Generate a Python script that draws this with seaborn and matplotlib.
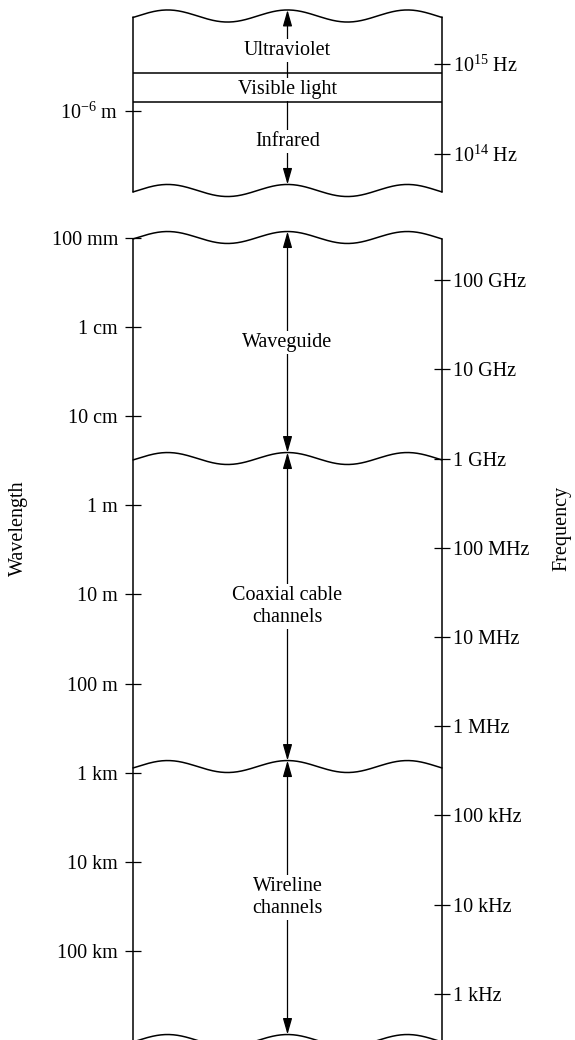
import numpy as np
import matplotlib
matplotlib.use("Agg")
import matplotlib.pyplot as plt
import seaborn as sns

C = 3e8  # m/s

# optical panel (top)
opt_edges_m = [8.8e-8, 7.6e-6]
visible_m = [380e-9, 800e-9]
opt_names = ['Ultraviolet', 'Visible light', 'Infrared']
opt_name_at_m = [210e-9, 570e-9, 2.2e-6]
opt_wl_ticks = [1e-6]
opt_wl_labels = ['$10^{-6}$ m']
opt_f_ticks = [1e15, 1e14]
opt_f_labels = ['$10^{15}$ Hz', '$10^{14}$ Hz']

# guided-transmission panel (bottom)
band_edges_m = [1e-3, 0.3, 850, 1e6]
band_names = ['Waveguide', 'Coaxial cable\nchannels', 'Wireline\nchannels']
wl_ticks = [1e-3, 1e-2, 1e-1, 1, 10, 100, 1e3, 1e4, 1e5]
wl_labels = ['100 mm', '1 cm', '10 cm', '1 m', '10 m', '100 m', '1 km', '10 km', '100 km']
f_ticks = [1e11, 1e10, 1e9, 1e8, 1e7, 1e6, 1e5, 1e4, 1e3]
f_labels = ['100 GHz', '10 GHz', '1 GHz', '100 MHz', '10 MHz', '1 MHz',
            '100 kHz', '10 kHz', '1 kHz']

sns.set_theme(style='white', rc={'text.color': 'black', 'axes.labelcolor': 'black',
                                 'xtick.color': 'black', 'ytick.color': 'black'})
plt.rcParams['font.family'] = ['Liberation Serif', 'DejaVu Serif']
plt.rcParams['mathtext.fontset'] = 'custom'
plt.rcParams['mathtext.rm'] = 'Liberation Serif'
plt.rcParams['mathtext.it'] = 'Liberation Serif:italic'

FS = 14.5
LW = 1.1
AMP = 0.067      # wave amplitude, decades
PERIOD = 0.388   # wave period, axes fraction

W, H = 575, 1040
fig = plt.figure(figsize=(W / 100, H / 100), dpi=100)
x0, x1 = 133 / W, 442 / W
ax_top = fig.add_axes([x0, 1 - 190.5 / H, x1 - x0, 174.5 / H])
ax_bot = fig.add_axes([x0, 1 - 1040.5 / H, x1 - x0, 803 / H])


def wave(e):
    xs = np.linspace(0, 1, 300)
    return xs, e - AMP * np.cos(2 * np.pi * (xs - 0.5) / PERIOD)


def frame(ax, edges):
    le = np.log10(edges)
    ends = []
    for e in (le[0], le[-1]):
        xs, ys = wave(e)
        sns.lineplot(x=xs, y=ys, ax=ax, color='black', lw=LW, sort=False, estimator=None)
        ends.append((ys[0], ys[-1]))
    for e in le[1:-1]:
        xs, ys = wave(e)
        sns.lineplot(x=xs, y=ys, ax=ax, color='black', lw=LW, sort=False, estimator=None)
    ax.plot([0, 0], [ends[0][0], ends[1][0]], color='black', lw=LW)
    ax.plot([1, 1], [ends[0][1], ends[1][1]], color='black', lw=LW)
    ax.set_xlim(0, 1)
    ax.set_ylim(le[-1], le[0])
    for ln in ax.lines:
        ln.set_clip_on(False)
    for s in ax.spines.values():
        s.set_visible(False)
    ax.set_xticks([])
    ax.set_xlabel('')
    ax.set_ylabel('')


def arrow(ax, a, b):
    ax.annotate('', xy=(0.5, a - AMP), xytext=(0.5, b - AMP),
                arrowprops=dict(arrowstyle='<|-|>,head_length=0.7,head_width=0.2',
                                color='black', lw=0.9, shrinkA=0, shrinkB=0,
                                mutation_scale=14),
                annotation_clip=False)


def label(ax, y, txt):
    ax.text(0.5, y, txt, ha='center', va='center', fontsize=FS, linespacing=1.2,
            bbox=dict(fc='white', ec='none', pad=1.5), zorder=5)


def ticks(ax, wl, wl_lab, fq, fq_lab):
    ax.set_yticks(np.log10(wl))
    ax.set_yticklabels(wl_lab)
    ax.tick_params(axis='y', direction='inout', length=12, width=0.9, pad=4.8,
                   labelsize=FS, left=True)
    tw = ax.twinx()
    tw.set_ylim(ax.get_ylim())
    tw.set_yticks(np.log10(C / np.array(fq)))
    tw.set_yticklabels(fq_lab)
    tw.tick_params(axis='y', direction='inout', length=12, width=0.9, pad=2,
                   labelsize=FS, right=True)
    for s in tw.spines.values():
        s.set_visible(False)


# top panel
frame(ax_top, opt_edges_m)
lt = np.log10(opt_edges_m)
lv = np.log10(visible_m)
for v in lv:
    sns.lineplot(x=[0, 1], y=[v, v], ax=ax_top, color='black', lw=LW)
arrow(ax_top, lt[0], lt[1])
for name, at in zip(opt_names, opt_name_at_m):
    label(ax_top, np.log10(at), name)
ticks(ax_top, opt_wl_ticks, opt_wl_labels, opt_f_ticks, opt_f_labels)

# bottom panel
frame(ax_bot, band_edges_m)
lb = np.log10(band_edges_m)
for i, name in enumerate(band_names):
    arrow(ax_bot, lb[i], lb[i + 1])
    label(ax_bot, (lb[i] + lb[i + 1]) / 2 - AMP, name)
ticks(ax_bot, wl_ticks, wl_labels, f_ticks, f_labels)

fig.text(18 / W, 1 - 528 / H, 'Wavelength', rotation=90, ha='center', va='center', fontsize=FS)
fig.text(562 / W, 1 - 528 / H, 'Frequency', rotation=90, ha='center', va='center', fontsize=FS)

fig.savefig('out.png', dpi=100, facecolor='white')
